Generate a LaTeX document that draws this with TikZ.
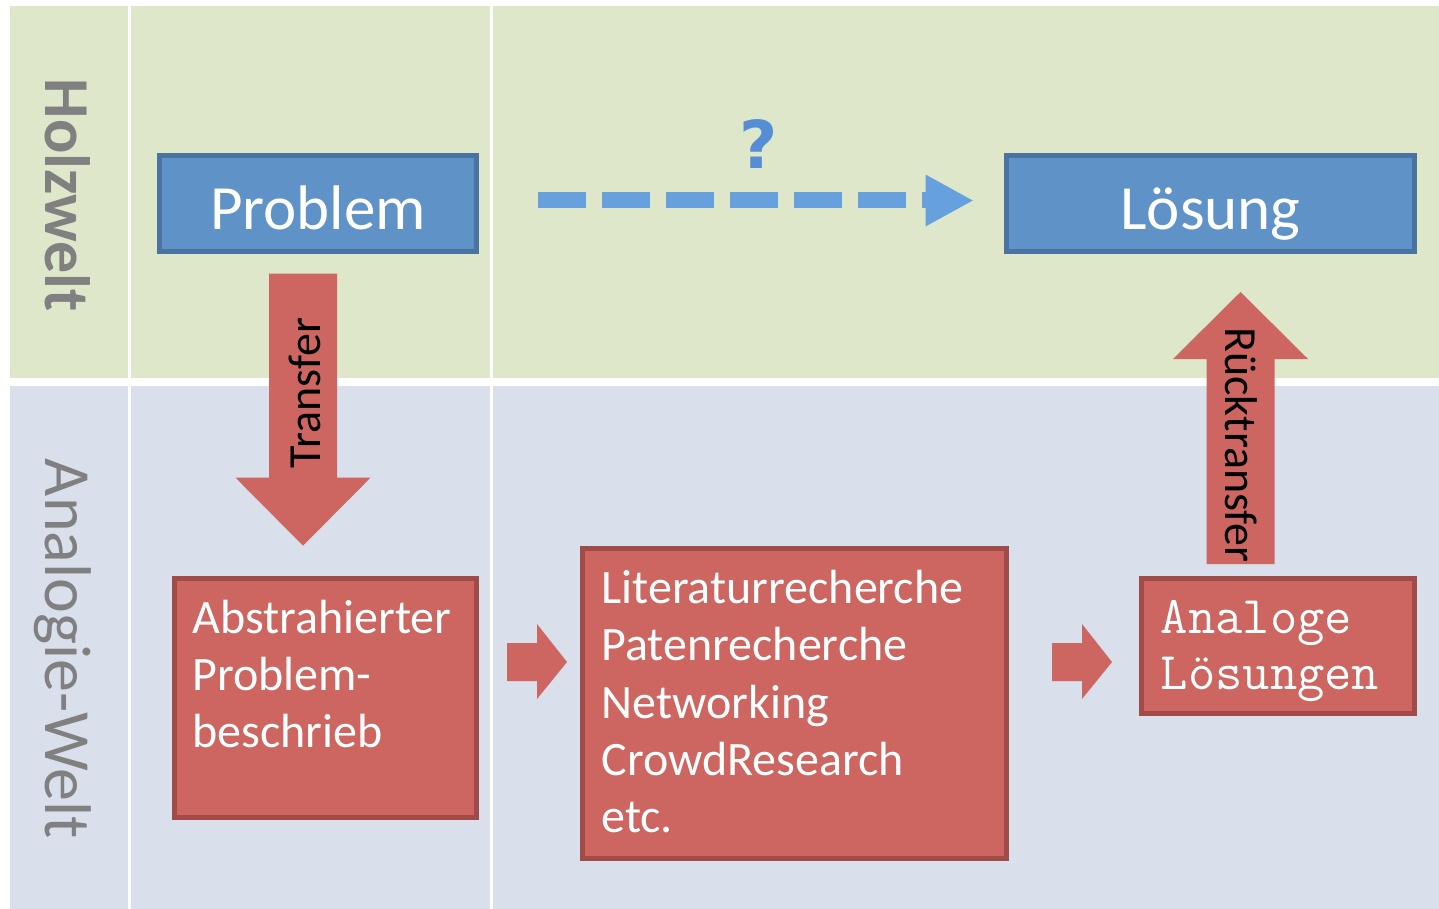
\documentclass[tikz,border=0pt]{standalone}
\usepackage{fontspec}
\setmainfont{Carlito}
\newfontfamily\markfont{DejaVu Sans}
\usetikzlibrary{arrows.meta,calc}
\definecolor{holz}{HTML}{DEE7CA}
\definecolor{analog}{HTML}{D9E0EC}
\definecolor{boxblue}{HTML}{5F93C8}
\definecolor{boxblueline}{HTML}{4A73A2}
\definecolor{boxred}{HTML}{CD6661}
\definecolor{boxredline}{HTML}{A04B48}
\definecolor{qblue}{HTML}{66A1DD}
\definecolor{qmark}{HTML}{558ED5}
\definecolor{worldgrey}{HTML}{808080}

\begin{document}
\begin{tikzpicture}[x=0.5pt,y=-0.5pt,
    box/.style={draw, line width=2.3pt, inner sep=0pt},
    bluebox/.style={box, fill=boxblue, draw=boxblueline, text=white,
      font=\fontsize{31.5}{36}\selectfont, text height=31.5pt, text depth=6pt},
    redbox/.style={box, fill=boxred, draw=boxredline},
    boxtext/.style={text=white, inner sep=0pt, anchor=base west, font=\fontsize{24}{28}\selectfont},
    worldlabel/.style={text=worldgrey, inner sep=0pt, anchor=base, rotate=-90, font=\fontsize{33}{40}\selectfont},
    arrowlabel/.style={inner sep=0pt, anchor=base, font=\fontsize{23}{28}\selectfont},
    blockarrow/.style={fill=boxred},
    qarrow/.style={draw=qblue, line width=8pt, dash pattern=on 24pt off 8pt,
      -{Triangle[length=24pt,width=24pt]}}]
  \useasboundingbox (0,0) rectangle (1439,909);

  % world bands
  \foreach \xa/\xb in {10/128, 131/490, 493/1439}
    { \fill[holz] (\xa,6) rectangle (\xb,378);
      \fill[analog] (\xa,386) rectangle (\xb,909); }
  \node[worldlabel, font=\fontsize{32}{40}\selectfont\bfseries] (holzL) at (45,195) {Holzwelt};
  \node[worldlabel] (analogL) at (45,649) {Analogie-Welt};

  % boxes
  \node[bluebox, minimum width=158.7pt, minimum height=48.2pt] (prob) at (318,203.5) {Problem};
  \node[bluebox, minimum width=204.2pt, minimum height=48.2pt] (loes) at (1210.5,203.5) {Lösung};
  \node[redbox, minimum width=151.2pt, minimum height=119.7pt] (abstr) at (325.5,698) {};
  \node[redbox, minimum width=212pt, minimum height=155.2pt] (lit) at (794.4,703.5) {};
  \node[redbox, minimum width=136.5pt, minimum height=67.7pt] (ana) at (1277.9,646) {};

  \foreach \t [count=\i from 0] in {Abstrahierter, Problem-, beschrieb}
    \node[boxtext] (abstr-\i) at ($(abstr.north west)+(20,57.7+57*\i)$) {\t};
  \foreach \t [count=\i from 0] in {Literaturrecherche, Patenrecherche, Networking, CrowdResearch, etc.}
    \node[boxtext] (lit-\i) at ($(lit.north west)+(21,57.7+57.2*\i)$) {\t};
  \foreach \t [count=\i from 0] in {Analoge, Lösungen}
    \node[boxtext, font=\fontsize{26.5}{30}\ttfamily] (ana-\i) at ($(ana.north west)+(21.4,57.7+56*\i)$) {\t};

  % question arrow
  \draw[qarrow] ($(prob.east)+(59.3,-3)$) -- ($(loes.west)+(-30.3,-3)$);
  \node[inner sep=0pt, anchor=base, text=qmark, font=\fontsize{33}{40}\markfont\bfseries] (qm) at (759,169) {?};

  % block arrows
  \coordinate (trTop) at ($(prob.south)+(-15,19.7)$);
  \fill[blockarrow, shift={(trTop)}] (-34,0) -- (34,0) -- (34,204) -- (67.5,204) -- (0,272)
    -- (-67.5,204) -- (-34,204) -- cycle;
  \node[arrowlabel, rotate=90] (trL) at (320,393) {Transfer};
  \coordinate (rtBot) at ($(ana.north)+(-37.4,-12)$);
  \fill[blockarrow, shift={(rtBot)}] (-34,0) -- (34,0) -- (34,-205) -- (67.5,-205) -- (0,-272)
    -- (-67.5,-205) -- (-34,-205) -- cycle;
  \node[arrowlabel, rotate=-90] (rtL) at (1225,445) {Rücktransfer};
  \foreach \c in {507,1052}
    \fill[blockarrow] (\c,643) -- ++(30,0) -- ++(0,-19) -- ++(30,38) -- ++(-30,37)
      -- ++(0,-18) -- ++(-30,0) -- cycle;
\end{tikzpicture}
\end{document}
